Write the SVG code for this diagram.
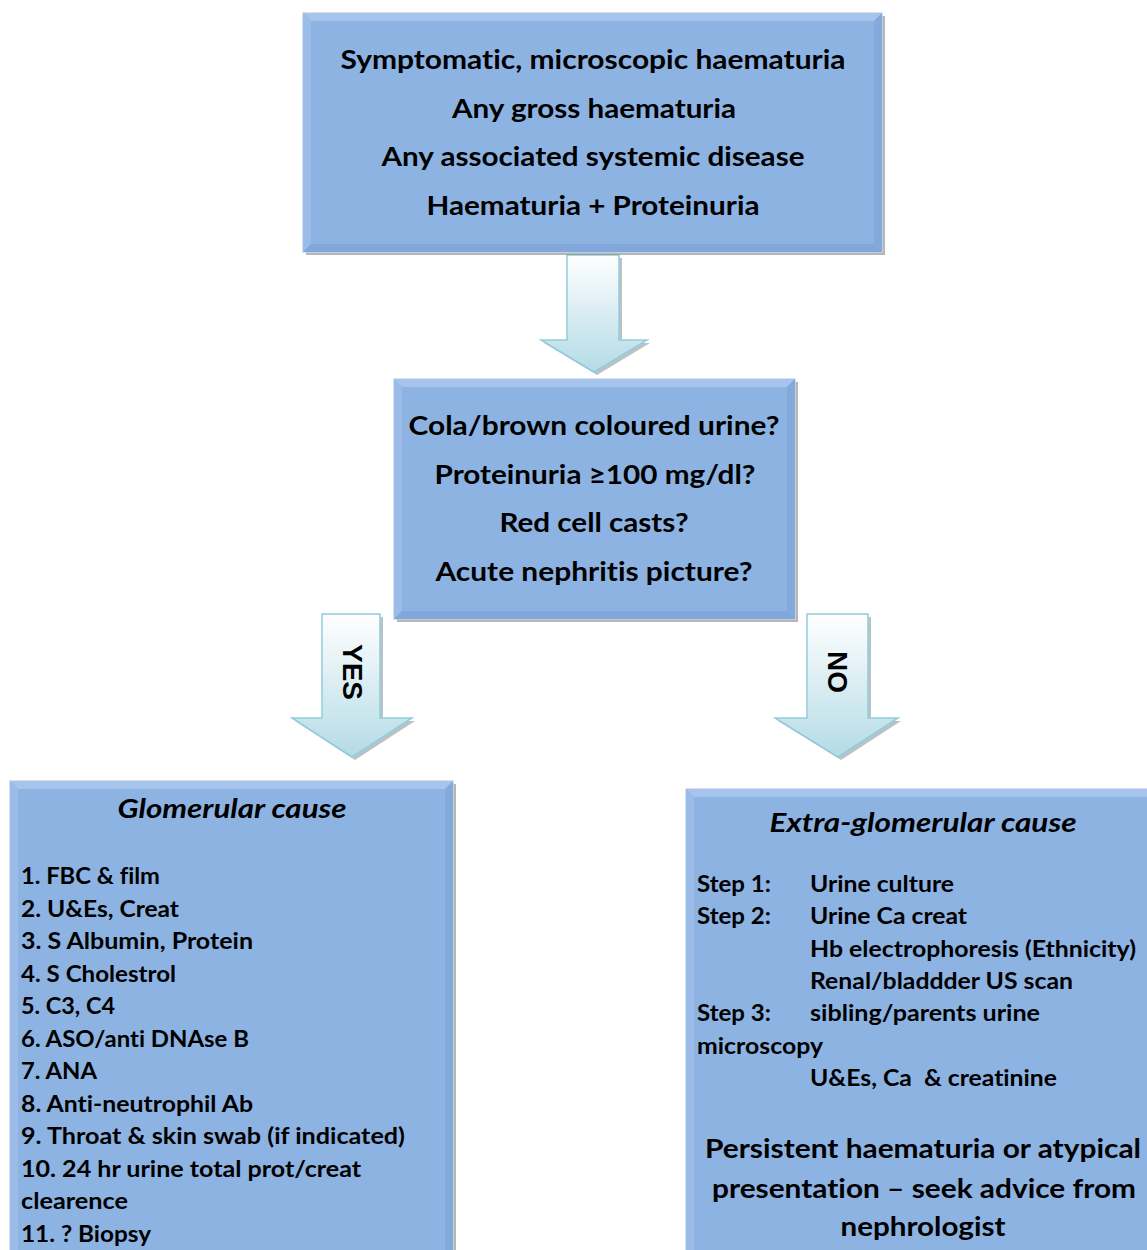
<svg xmlns="http://www.w3.org/2000/svg" width="1147" height="1250" viewBox="0 0 1147 1250">
<defs>
<linearGradient id="ag" x1="0" y1="0" x2="0" y2="1">
<stop offset="0" stop-color="#ffffff"/>
<stop offset="1" stop-color="#b4dbe6"/>
</linearGradient>
<style>
.sh{fill:#7a7a7a;opacity:.55}
.bx{fill:#8db3e2;stroke:#c6d9f1;stroke-width:1.5}
.bt{fill:#a6c4ec}
.bl{fill:#9bbbe8}
.br{fill:#84a9db}
.bb{fill:#82a7da}
.ar{fill:url(#ag);stroke:#93cddd;stroke-width:1.5}
.ash{fill:#8a9a9e;opacity:.6}
text{font-family:Lato,"Liberation Sans",sans-serif;font-weight:700;fill:#000;font-variant-ligatures:none;font-feature-settings:"liga" 0,"clig" 0}
.c{text-anchor:middle}
.t{font-size:26px}
.l{font-size:22px}
.i{font-style:italic;font-size:26px}
.p{font-size:27px}
.yn{font-family:"Liberation Sans",Arial,sans-serif;font-size:28px;text-anchor:middle}
</style>
</defs>
<rect width="1147" height="1250" fill="#ffffff"/>

<g id="connectors">
<polygon class="ash" points="570,258 622,258 622,343 650,343 597,375 544,343 570,343"/>
<polygon class="ar" points="567,255 619,255 619,340 647,340 594,372 541,340 567,340"/>
<polygon class="ash" points="325,617 383,617 383,721 415,721 355,760 295,721 325,721"/>
<polygon class="ar" points="322,614 380,614 380,718 412,718 352,757 292,718 322,718"/>
<text class="yn" transform="translate(343,672) rotate(90)">YES</text>
<polygon class="ash" points="810,617 871,617 871,721 901,721 841,760 778,721 810,721"/>
<polygon class="ar" points="807,614 868,614 868,718 898,718 838,757 775,718 807,718"/>
<text class="yn" transform="translate(828,672) rotate(90)">NO</text>
</g>

<g id="node-top">
<rect class="sh" x="306" y="16" width="579" height="239"/>
<rect class="bx" x="303" y="13" width="579" height="239"/>
<polygon class="bt" points="303,13 882,13 874,21 311,21"/>
<polygon class="bl" points="303,13 311,21 311,244 303,252"/>
<polygon class="br" points="882,13 882,252 874,244 874,21"/>
<polygon class="bb" points="303,252 882,252 874,244 311,244"/>
<text class="t c" x="593" y="69" textLength="505" lengthAdjust="spacingAndGlyphs">Symptomatic, microscopic haematuria</text>
<text class="t c" x="594" y="118" textLength="284" lengthAdjust="spacingAndGlyphs">Any gross haematuria</text>
<text class="t c" x="593" y="166" textLength="423" lengthAdjust="spacingAndGlyphs">Any associated systemic disease</text>
<text class="t c" x="593" y="215" textLength="333" lengthAdjust="spacingAndGlyphs">Haematuria + Proteinuria</text>
</g>

<g id="node-middle">
<rect class="sh" x="397" y="382" width="401" height="240"/>
<rect class="bx" x="394" y="379" width="401" height="240"/>
<polygon class="bt" points="394,379 795,379 787,387 402,387"/>
<polygon class="bl" points="394,379 402,387 402,611 394,619"/>
<polygon class="br" points="795,379 795,619 787,611 787,387"/>
<polygon class="bb" points="394,619 795,619 787,611 402,611"/>
<text class="t c" x="594" y="435" textLength="371" lengthAdjust="spacingAndGlyphs">Cola/brown coloured urine?</text>
<text class="t c" x="595" y="484" textLength="321" lengthAdjust="spacingAndGlyphs">Proteinuria ≥100 mg/dl?</text>
<text class="t c" x="594" y="532" textLength="189" lengthAdjust="spacingAndGlyphs">Red cell casts?</text>
<text class="t c" x="594" y="581" textLength="317" lengthAdjust="spacingAndGlyphs">Acute nephritis picture?</text>
</g>

<g id="node-glomerular">
<rect class="sh" x="13" y="784" width="443" height="480"/>
<rect class="bx" x="10" y="781" width="443" height="480"/>
<polygon class="bt" points="10,781 453,781 445,789 18,789"/>
<polygon class="bl" points="10,781 18,789 18,1261 10,1261"/>
<polygon class="br" points="453,781 453,1261 445,1261 445,789"/>
<text class="i c" x="232" y="818" textLength="229" lengthAdjust="spacingAndGlyphs">Glomerular cause</text>
<text class="l" x="21" y="884" textLength="139" lengthAdjust="spacingAndGlyphs">1. FBC &amp; film</text>
<text class="l" x="21" y="917" textLength="158" lengthAdjust="spacingAndGlyphs">2. U&amp;Es, Creat</text>
<text class="l" x="21" y="949" textLength="232" lengthAdjust="spacingAndGlyphs">3. S Albumin, Protein</text>
<text class="l" x="21" y="982" textLength="155" lengthAdjust="spacingAndGlyphs">4. S Cholestrol</text>
<text class="l" x="21" y="1014" textLength="94" lengthAdjust="spacingAndGlyphs">5. C3, C4</text>
<text class="l" x="21" y="1047" textLength="228" lengthAdjust="spacingAndGlyphs">6. ASO/anti DNAse B</text>
<text class="l" x="21" y="1079" textLength="76" lengthAdjust="spacingAndGlyphs">7. ANA</text>
<text class="l" x="21" y="1112" textLength="232" lengthAdjust="spacingAndGlyphs">8. Anti-neutrophil Ab</text>
<text class="l" x="21" y="1144" textLength="384" lengthAdjust="spacingAndGlyphs">9. Throat &amp; skin swab (if indicated)</text>
<text class="l" x="21" y="1177" textLength="340" lengthAdjust="spacingAndGlyphs">10. 24 hr urine total prot/creat</text>
<text class="l" x="21" y="1209" textLength="107" lengthAdjust="spacingAndGlyphs">clearence</text>
<text class="l" x="21" y="1242" textLength="130" lengthAdjust="spacingAndGlyphs">11. ? Biopsy</text>
</g>

<g id="node-extraglomerular">
<rect class="sh" x="689" y="792" width="470" height="470"/>
<rect class="bx" x="686" y="789" width="470" height="470"/>
<polygon class="bt" points="686,789 1156,789 1148,797 694,797"/>
<polygon class="bl" points="686,789 694,797 694,1259 686,1259"/>
<text class="i c" x="923" y="832" textLength="307" lengthAdjust="spacingAndGlyphs">Extra-glomerular cause</text>
<text class="l" x="697" y="892" textLength="74" lengthAdjust="spacingAndGlyphs">Step 1:</text>
<text class="l" x="810" y="892" textLength="144" lengthAdjust="spacingAndGlyphs">Urine culture</text>
<text class="l" x="697" y="924" textLength="74" lengthAdjust="spacingAndGlyphs">Step 2:</text>
<text class="l" x="810" y="924" textLength="157" lengthAdjust="spacingAndGlyphs">Urine Ca creat</text>
<text class="l" x="810" y="957" textLength="326" lengthAdjust="spacingAndGlyphs">Hb electrophoresis (Ethnicity)</text>
<text class="l" x="810" y="989" textLength="263" lengthAdjust="spacingAndGlyphs">Renal/bladdder US scan</text>
<text class="l" x="697" y="1021" textLength="74" lengthAdjust="spacingAndGlyphs">Step 3:</text>
<text class="l" x="810" y="1021" textLength="230" lengthAdjust="spacingAndGlyphs">sibling/parents urine</text>
<text class="l" x="697" y="1054" textLength="126" lengthAdjust="spacingAndGlyphs">microscopy</text>
<text class="l" x="810" y="1086" textLength="247" lengthAdjust="spacingAndGlyphs" xml:space="preserve">U&amp;Es, Ca  &amp; creatinine</text>
<text class="p c" x="923" y="1158" textLength="436" lengthAdjust="spacingAndGlyphs">Persistent haematuria or atypical</text>
<text class="p c" x="924" y="1198" textLength="424" lengthAdjust="spacingAndGlyphs">presentation – seek advice from</text>
<text class="p c" x="923" y="1236" textLength="165" lengthAdjust="spacingAndGlyphs">nephrologist</text>
</g>
</svg>
